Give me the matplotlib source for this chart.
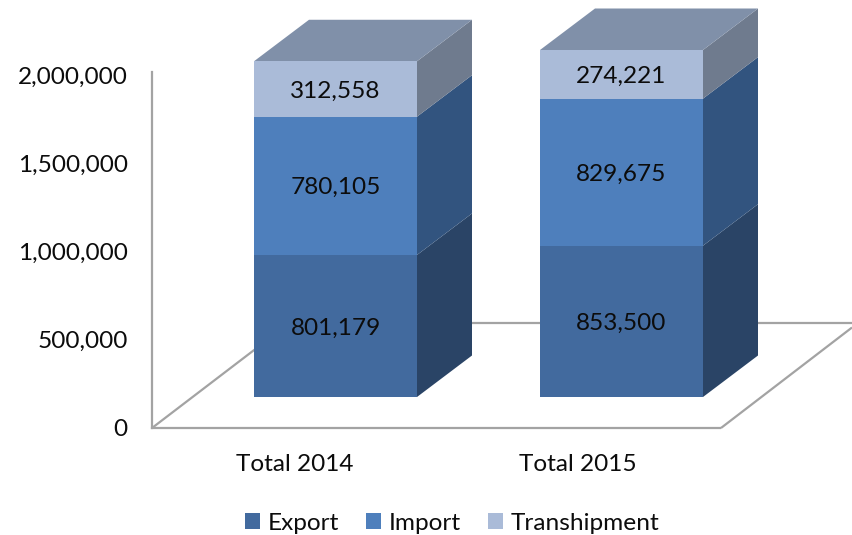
import numpy as np
import matplotlib
matplotlib.use("Agg")
import matplotlib.pyplot as plt
from matplotlib.patches import Polygon
from matplotlib.ticker import FuncFormatter

categories = ["Total 2014", "Total 2015"]
series_names = ["Export", "Import", "Transhipment"]
export = [801179, 853500]
imports = [780105, 829675]
transhipment = [312558, 274221]
y_ticks = [0, 500000, 1000000, 1500000, 2000000]

front_colors = ["#426A9E", "#4E7FBC", "#AABBD8"]
side_colors = ["#2A4466", "#32547F", "#6F7B8E"]
top_color = "#8090A9"
axis_color = "#A3A3A3"
text_color = "#0C0C0C"

W, H = 852, 535
plt.rcParams["font.family"] = ["Lato", "DejaVu Sans"]
FS = 17.6

fig = plt.figure(figsize=(W / 100, H / 100), dpi=100, facecolor="white")

# value axis and floor front edge (the chart's real axes)
back = fig.add_axes([152 / W, (H - 428) / H, (720 - 152) / W, (428 - 72) / H], zorder=1)
back.set_facecolor("none")
back.set_xlim(152, 720)
back.set_ylim(0, 2000000 * (428 - 72) / (428 - 75))
back.set_yticks(y_ticks)
back.yaxis.set_major_formatter(FuncFormatter(lambda v, _: f"{int(v):,}"))
back.set_xticks([294.5, 578])
back.set_xticklabels(categories)
back.tick_params(length=0, labelsize=FS, labelcolor=text_color)
back.tick_params(axis="y", pad=17.5)
back.tick_params(axis="x", pad=18.5)
for s in ("top", "right"):
    back.spines[s].set_visible(False)
for s in ("left", "bottom"):
    back.spines[s].set_color(axis_color)
    back.spines[s].set_linewidth(1.6)

# main axes: bars in value units, full-figure placement
ax = fig.add_axes([0, 0, 1, 1], zorder=2)
ax.patch.set_visible(False)
ax.axis("off")
px_per_cat = 286.0
px_per_val = 347.0 / 1957396
ax.set_xlim((0 - 335.5) / px_per_cat, (W - 335.5) / px_per_cat)
ax.set_ylim((397 - H) / px_per_val, 397 / px_per_val)


def P(px, py):
    return ((px - 335.5) / px_per_cat, (397 - py) / px_per_val)


# floor outline
for (a, b) in [((152, 428), (262, 344)), ((417, 323), (W, 323)), ((721, 428), (W, 327.5))]:
    pa, pb = P(*a), P(*b)
    ax.plot([pa[0], pb[0]], [pa[1], pb[1]], color=axis_color, lw=1.6, zorder=1,
            solid_capstyle="butt", clip_on=True)

x = np.arange(len(categories))
width = 163.0 / px_per_cat
dx = 55.0 / px_per_cat
dy = 41.5 / px_per_val

series = [export, imports, transhipment]
bottom = np.zeros(len(categories))
label_nudge = 2.0 / px_per_val
for i, vals in enumerate(series):
    vals = np.array(vals, dtype=float)
    ax.bar(x, vals, width=width, bottom=bottom, color=front_colors[i],
           label=series_names[i], zorder=3, linewidth=0)
    for j in range(len(x)):
        xr = x[j] + width / 2
        y0, y1 = bottom[j], bottom[j] + vals[j]
        ax.add_patch(Polygon([(xr, y0), (xr + dx, y0 + dy), (xr + dx, y1 + dy), (xr, y1)],
                             closed=True, facecolor=side_colors[i], edgecolor="none", zorder=2))
        ax.text(x[j], (y0 + y1) / 2 - label_nudge, f"{int(vals[j]):,}", ha="center", va="center",
                fontsize=FS, color=text_color, zorder=5)
    bottom = bottom + vals

for j in range(len(x)):
    xl, xr = x[j] - width / 2, x[j] + width / 2
    t = bottom[j]
    ax.add_patch(Polygon([(xl, t), (xr, t), (xr + dx, t + dy), (xl + dx, t + dy)],
                         closed=True, facecolor=top_color, edgecolor="none", zorder=2))

leg = ax.legend(loc="center", bbox_to_anchor=(452 / W, (H - 523) / H), ncols=3, frameon=False,
                fontsize=FS, handlelength=0.62, handleheight=0.62, handletextpad=0.3,
                columnspacing=1.12, labelcolor=text_color, borderpad=0, borderaxespad=0)

fig.savefig("out.png", dpi=100, facecolor="white")
